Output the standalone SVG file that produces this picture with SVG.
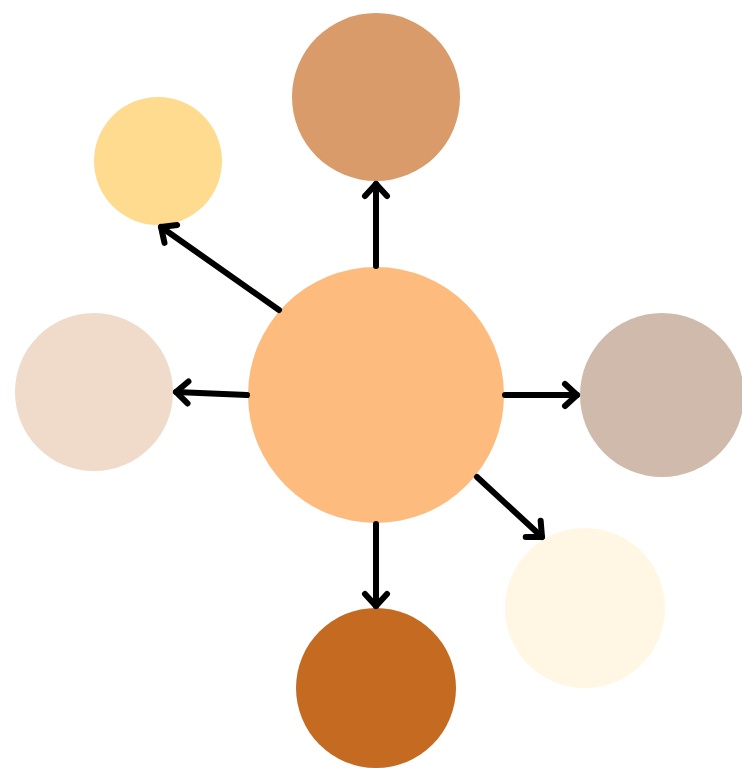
<svg xmlns="http://www.w3.org/2000/svg" width="742" height="768" viewBox="0 0 742 768">
<style>
.edge{stroke:#000;stroke-width:6;stroke-linecap:round;fill:none;marker-end:url(#arr)}
</style>
<defs>
<marker id="arr" markerUnits="userSpaceOnUse" viewBox="-20 -20 30 40" refX="0" refY="0" markerWidth="30" markerHeight="40" orient="auto" overflow="visible">
<path d="M-12,-11 L0,0 L-12,11" fill="none" stroke="#000" stroke-width="6" stroke-linecap="round" stroke-linejoin="round"/>
</marker>
</defs>
<rect width="742" height="768" fill="#fff"/>
<g id="n-top"><circle cx="376" cy="97" r="84" fill="#D99B6A"/></g>
<g id="n-topleft"><circle cx="158" cy="161" r="64" fill="#FFDB8F"/></g>
<g id="n-left"><circle cx="94" cy="392" r="79" fill="#F0DACA"/></g>
<g id="n-right"><circle cx="662" cy="395" r="82" fill="#CFBAAC"/></g>
<g id="n-bottomright"><circle cx="585" cy="608" r="80" fill="#FFF7E3"/></g>
<g id="n-bottom"><circle cx="376" cy="688" r="80" fill="#C46A21"/></g>
<g id="n-center"><circle cx="376" cy="395" r="128" fill="#FDBB7E"/></g>
<g id="edges">
<line class="edge" x1="376" y1="266" x2="376" y2="184"/>
<line class="edge" x1="279" y1="310" x2="161" y2="227"/>
<line class="edge" x1="247" y1="395" x2="176" y2="392"/>
<line class="edge" x1="505" y1="395" x2="577" y2="395"/>
<line class="edge" x1="477" y1="477" x2="542" y2="537"/>
<line class="edge" x1="376" y1="524" x2="376" y2="606"/>
</g>
</svg>
